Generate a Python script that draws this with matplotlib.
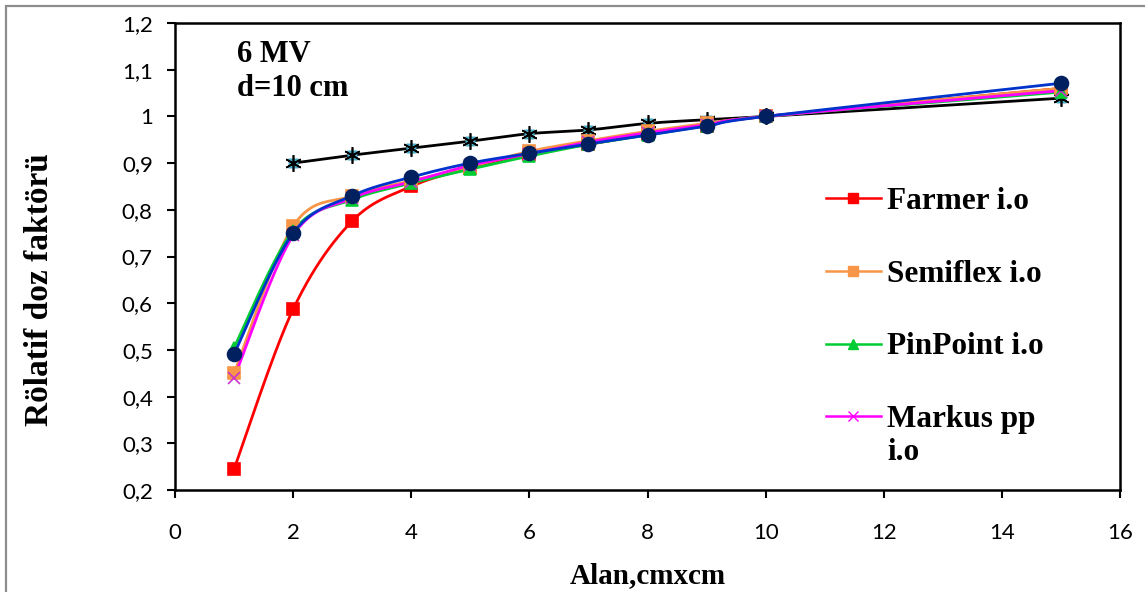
"""
Relative dose factor vs. field size (6 MV, d=10 cm) for several chambers.
"""

import numpy as np
import matplotlib
matplotlib.use("Agg")
import matplotlib.pyplot as plt
from matplotlib.lines import Line2D
from matplotlib.patches import Rectangle
from matplotlib.ticker import FuncFormatter


# ── Data ──

field_size = [1, 2, 3, 4, 5, 6, 7, 8, 9, 10, 15]
farmer = [0.245, 0.587, 0.776, 0.850, 0.890, 0.920, 0.940, 0.962, 0.980, 1.000, 1.060]
semiflex = [0.450, 0.765, 0.830, 0.862, 0.892, 0.925, 0.948, 0.968, 0.985, 1.000, 1.060]
pinpoint = [0.505, 0.755, 0.822, 0.857, 0.887, 0.915, 0.940, 0.960, 0.980, 1.000, 1.052]
markus = [0.440, 0.745, 0.825, 0.860, 0.895, 0.920, 0.945, 0.965, 0.982, 1.000, 1.055]
navy_series = [0.491, 0.750, 0.830, 0.870, 0.900, 0.921, 0.941, 0.960, 0.979, 1.000, 1.071]

star_field_size = [2, 3, 4, 5, 6, 7, 8, 9, 10, 15]
star_series = [0.900, 0.917, 0.932, 0.947, 0.963, 0.971, 0.985, 0.993, 1.000, 1.039]

legend_labels = ["Farmer i.o", "Semiflex i.o", "PinPoint i.o", "Markus pp"]
legend_wrap = "i.o"   # second line of the Markus entry
x_ticks = [0, 2, 4, 6, 8, 10, 12, 14, 16]
y_ticks = [0.2, 0.3, 0.4, 0.5, 0.6, 0.7, 0.8, 0.9, 1.0, 1.1, 1.2]


# ── Helpers ──

def smooth_curve(x, y, n=40):
    """Excel-style smoothed line (cubic Bezier through the points)."""
    pts = np.column_stack([x, y]).astype(float)
    padded = np.vstack([pts[0], pts, pts[-1]])
    t = np.linspace(0, 1, n)[:, None]
    out = []
    for i in range(len(pts) - 1):
        p0, p1, p2, p3 = padded[i], padded[i + 1], padded[i + 2], padded[i + 3]
        c1 = p1 + (p2 - p0) / 6
        c2 = p2 - (p3 - p1) / 6
        seg = ((1 - t) ** 3 * p1 + 3 * (1 - t) ** 2 * t * c1
               + 3 * (1 - t) * t ** 2 * c2 + t ** 3 * p2)
        out.append(seg if i == 0 else seg[1:])
    s = np.vstack(out)
    return s[:, 0], s[:, 1]


def plot_series(ax, x, y, color, marker, mfc, mec, ms, lw=2.0, zorder=3):
    sx, sy = smooth_curve(x, y)
    ax.plot(sx, sy, color=color, lw=lw, zorder=zorder, solid_capstyle="round")
    ax.plot(x, y, ls="none", marker=marker, mfc=mfc, mec=mec, ms=ms,
            mew=1.2, zorder=zorder + 0.5)


def comma_fmt(v, _pos):
    return ("%g" % round(v, 2)).replace(".", ",")


# ── Figure ──

W, H = 1145, 592
fig = plt.figure(figsize=(W / 100, H / 100), dpi=100)
ax = fig.add_axes([175 / W, 1 - 490 / H, (1120 - 175) / W, (490 - 23) / H])

# outer chart frame (cropped at right/bottom)
fig.add_artist(Rectangle((6 / W, -0.1), 1.2, 1.1 - 6 / H, transform=fig.transFigure,
                         fill=False, edgecolor="#8c8c8c", lw=1.6, clip_on=False))

red = "#ff0000"
orange = "#f79646"
green = "#00cc33"
magenta = "#ff00ff"

# unlabelled reference series
sx, sy = smooth_curve(star_field_size, star_series)
ax.plot(sx, sy, color="black", lw=2.0, zorder=2)
ax.plot(star_field_size, star_series, ls="none", marker="s", ms=7.5,
        mfc="#4bacc6", mec="none", zorder=2.4)
ax.plot(star_field_size, star_series, ls="none", marker=(6, 2, 0), ms=12,
        mec="black", mew=1.2, zorder=2.5)

plot_series(ax, field_size, farmer, red, "s", red, red, 8.5)
plot_series(ax, field_size, semiflex, orange, "s", orange, orange, 8.5)
plot_series(ax, field_size, pinpoint, green, "^", green, green, 8.5)
plot_series(ax, field_size, markus, magenta, "x", magenta, "#cc33cc", 8.5)
plot_series(ax, field_size, navy_series, "#0033cc", "o", "#002060", "#002060",
            10, zorder=4)

# axes styling
ax.set_xlim(0, 16)
ax.set_ylim(0.2, 1.2)
ax.set_xticks(x_ticks)
ax.set_yticks(y_ticks)
ax.yaxis.set_major_formatter(FuncFormatter(comma_fmt))
for side in ["left", "bottom", "top", "right"]:
    ax.spines[side].set_linewidth(1.8)
    ax.spines[side].set_color("black")
ax.tick_params(direction="out", length=6, width=1.5, colors="black",
               labelsize=16)
ax.tick_params(axis="x", pad=18)
ax.tick_params(axis="y", pad=10)
for lab in ax.get_xticklabels() + ax.get_yticklabels():
    lab.set_family("Lato")

ax.set_xlabel("Alan,cmxcm", family="Liberation Serif", weight="bold",
              fontsize=21)
ax.xaxis.set_label_coords(0.5, (490 - 576) / 467)
ax.xaxis.label.set_va("center")
ax.set_ylabel("Rölatif doz faktörü", family="Liberation Serif", weight="bold",
              fontsize=24)
ax.yaxis.set_label_coords((40 - 175) / 945, (490 - 290) / 467)
ax.yaxis.label.set_va("center")

ax.text((237 - 175) / 945, (490 - 40) / 467, "6 MV\nd=10 cm",
        transform=ax.transAxes, family="Liberation Serif", weight="bold",
        fontsize=22, va="top", ha="left", linespacing=1.25)

# legend (first four series only)
legend_font = {"family": "Liberation Serif", "weight": "bold", "size": 22.5}
handles = [
    Line2D([], [], color=red, lw=1.8, marker="s", ms=7, mfc=red, mec=red),
    Line2D([], [], color=orange, lw=1.8, marker="s", ms=7, mfc=orange, mec=orange),
    Line2D([], [], color=green, lw=1.8, marker="^", ms=7, mfc=green, mec=green),
    Line2D([], [], color=magenta, lw=1.8, marker="x", ms=7, mec=magenta),
]
ax.legend(handles, legend_labels, loc="upper left",
          bbox_to_anchor=((826 - 175) / 945, (490 - 187) / 467),
          frameon=False, borderpad=0, borderaxespad=0,
          handlelength=1.75, handletextpad=0.2, labelspacing=1.4,
          prop=legend_font)
ax.text((887 - 175) / 945, (490 - 453) / 467, legend_wrap,
        transform=ax.transAxes, va="center", ha="left", **{
            "family": legend_font["family"], "weight": legend_font["weight"],
            "fontsize": legend_font["size"]})

fig.savefig("out.png", dpi=100)
